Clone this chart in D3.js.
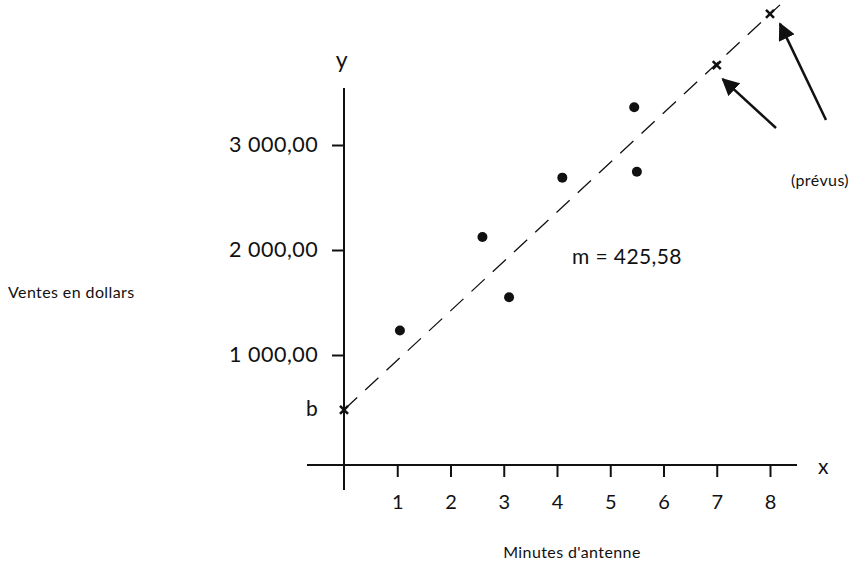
<!DOCTYPE html>
<html><head><meta charset="utf-8">
<script src="https://cdn.jsdelivr.net/npm/d3@7"></script>
<style>body{margin:0;background:#fff}text{font-family:Lato,"Open Sans",sans-serif;fill:#111}</style>
</head><body>
<svg id="c" width="868" height="567"></svg>
<script>
const xTicks=[1,2,3,4,5,6,7,8];
const yTicks=[1000,2000,3000];
const yTickLabels=["1 000,00","2 000,00","3 000,00"];
const pointsX=[1.05,2.6,3.1,4.1,5.45,5.5];
const pointsY=[1234,2124,1550,2689,3359,2746];
const predX=[0,7,8];
const predY=[478,3761,4249];
const slopeLabel="m = 425,58";

const svg=d3.select("#c");
const x=d3.scaleLinear().domain([0,8]).range([344,770]);
const y=d3.scaleLinear().domain([0,1000]).range([460,355]);
const ax0=y(-48);
svg.append("line").attr("x1",307).attr("x2",797).attr("y1",ax0).attr("y2",ax0).attr("stroke","#111").attr("stroke-width",2);
svg.append("line").attr("x1",344).attr("x2",344).attr("y1",88).attr("y2",490).attr("stroke","#111").attr("stroke-width",2);
const xa=svg.append("g").attr("transform",`translate(0,${ax0})`)
 .call(d3.axisBottom(x).tickValues(xTicks).tickSize(12).tickFormat(d3.format("d")));
xa.select(".domain").remove();
xa.selectAll("line").attr("stroke","#111").attr("stroke-width",2);
xa.selectAll("text").attr("font-size",20).attr("dy","1.45em").attr("font-family","Lato").attr("fill","#111");
const ya=svg.append("g").attr("transform","translate(344,0)")
 .call(d3.axisLeft(y).tickValues(yTicks).tickSize(12).tickFormat((d,i)=>yTickLabels[i]));
ya.select(".domain").remove();
ya.selectAll("line").attr("stroke","#111").attr("stroke-width",2);
ya.selectAll("text").attr("font-size",21.5).attr("dx","-0.5em").attr("font-family","Lato").attr("fill","#111").attr("letter-spacing","0.5px");
svg.append("line").attr("x1",x(predX[0])).attr("y1",y(predY[0])).attr("x2",x(predX[2])+10).attr("y2",y(predY[2])-9)
 .attr("stroke","#111").attr("stroke-width",1.3).attr("stroke-dasharray","18,11");
svg.selectAll("circle").data(pointsX).join("circle").attr("cx",d=>x(d)).attr("cy",(d,i)=>y(pointsY[i])).attr("r",5).attr("fill","#111");
predX.forEach((d,i)=>{const cx=x(d),cy=y(predY[i]);
 svg.append("path").attr("d",`M${cx-4},${cy-4}L${cx+4},${cy+4}M${cx-4},${cy+4}L${cx+4},${cy-4}`).attr("stroke","#111").attr("stroke-width",2.5);});
svg.append("defs").append("marker").attr("id","ah").attr("viewBox","0 0 10 10").attr("refX",9).attr("refY",5)
 .attr("markerWidth",7).attr("markerHeight",7).attr("orient","auto").append("path").attr("d","M0,0L10,5L0,10Z").attr("fill","#111");
[[776,128,x(7)+6,y(predY[1])+14],[826,120,x(8)+10,y(predY[2])+10]].forEach(a=>{
 svg.append("line").attr("x1",a[0]).attr("y1",a[1]).attr("x2",a[2]).attr("y2",a[3]).attr("stroke","#111").attr("stroke-width",2.5).attr("marker-end","url(#ah)");});
const t=(s,X,Y,fs,anchor)=>svg.append("text").attr("x",X).attr("y",Y).attr("font-size",fs).attr("text-anchor",anchor||"start").attr("letter-spacing","0.4px").text(s);
t("(prévus)",820,186,16,"middle");
t(slopeLabel,572,264,21);
t("Ventes en dollars",8,298,16);
t("Minutes d'antenne",572,558,16,"middle");
t("x",818,474,21);
t("y",342,68,23,"middle");
t("b",306,416,21);
</script>
</body></html>
